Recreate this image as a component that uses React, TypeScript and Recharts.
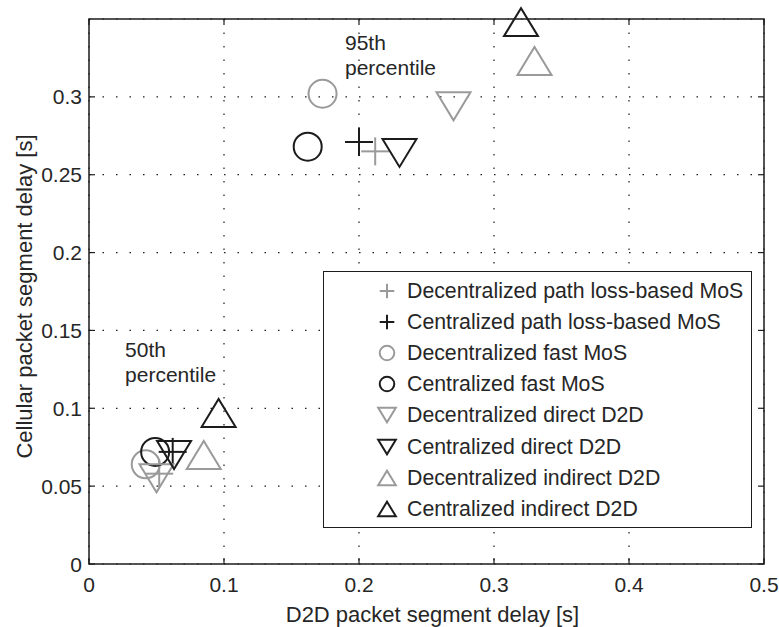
import {
    CartesianGrid,
    ReferenceArea,
    ReferenceDot,
    Scatter,
    ScatterChart,
    XAxis,
    YAxis,
} from "recharts";

// tick values
const xTicks = [0, 0.1, 0.2, 0.3, 0.4, 0.5];
const yTicks = [0, 0.05, 0.1, 0.15, 0.2, 0.25, 0.3];

// each series: [50th percentile, 95th percentile]
const decPathX = [0.052, 0.212];
const decPathY = [0.058, 0.265];
const cenPathX = [0.062, 0.2];
const cenPathY = [0.072, 0.271];
const decFastX = [0.042, 0.173];
const decFastY = [0.064, 0.302];
const cenFastX = [0.049, 0.162];
const cenFastY = [0.072, 0.268];
const decDirectX = [0.05, 0.27];
const decDirectY = [0.055, 0.294];
const cenDirectX = [0.063, 0.23];
const cenDirectY = [0.07, 0.264];
const decIndirectX = [0.085, 0.33];
const decIndirectY = [0.07, 0.323];
const cenIndirectX = [0.096, 0.32];
const cenIndirectY = [0.097, 0.348];

const W = 779;
const H = 627;
const margin = { top: 19, right: 15, left: 0, bottom: 0 };
const Y_W = 89;
const X_H = 63;
const PLOT_L = Y_W;
const PLOT_R = W - margin.right;
const PLOT_T = margin.top;
const PLOT_B = H - X_H;
const TICK = 6;

const BLACK = "#1c1c1c";
const GREY = "#9a9a9a";
const TEXT = "#262626";
const FONT = "'Liberation Sans', Arial, Helvetica, sans-serif";

type Kind = "plus" | "circle" | "down" | "up";

const series: { name: string; xs: number[]; ys: number[]; kind: Kind; color: string }[] = [
    { name: "Decentralized path loss-based MoS", xs: decPathX, ys: decPathY, kind: "plus", color: GREY },
    { name: "Centralized path loss-based MoS", xs: cenPathX, ys: cenPathY, kind: "plus", color: BLACK },
    { name: "Decentralized fast MoS", xs: decFastX, ys: decFastY, kind: "circle", color: GREY },
    { name: "Centralized fast MoS", xs: cenFastX, ys: cenFastY, kind: "circle", color: BLACK },
    { name: "Decentralized direct D2D", xs: decDirectX, ys: decDirectY, kind: "down", color: GREY },
    { name: "Centralized direct D2D", xs: cenDirectX, ys: cenDirectY, kind: "down", color: BLACK },
    { name: "Decentralized indirect D2D", xs: decIndirectX, ys: decIndirectY, kind: "up", color: GREY },
    { name: "Centralized indirect D2D", xs: cenIndirectX, ys: cenIndirectY, kind: "up", color: BLACK },
];

function Mark({ kind, color, cx, cy, s }: { kind: Kind; color: string; cx: number; cy: number; s: number }) {
    const sw = 2;
    if (kind === "plus") {
        const a = 14 * s;
        return (
            <g stroke={color} strokeWidth={sw}>
                <line x1={cx - a} x2={cx + a} y1={cy} y2={cy} />
                <line x1={cx} x2={cx} y1={cy - a} y2={cy + a} />
            </g>
        );
    }
    if (kind === "circle") {
        return <circle cx={cx} cy={cy} r={14 * s} fill="none" stroke={color} strokeWidth={sw} />;
    }
    const hw = 17 * s;
    const hh = 14 * s;
    const pts =
        kind === "down"
            ? `${cx - hw},${cy - hh} ${cx + hw},${cy - hh} ${cx},${cy + hh}`
            : `${cx - hw},${cy + hh} ${cx + hw},${cy + hh} ${cx},${cy - hh}`;
    return <polygon points={pts} fill="none" stroke={color} strokeWidth={sw} strokeLinejoin="miter" />;
}

const XTick = (p: any) => {
    const x = p.x;
    return (
        <g>
            <line x1={x} x2={x} y1={PLOT_B} y2={PLOT_B - TICK} stroke={BLACK} strokeWidth={1.2} />
            <line x1={x} x2={x} y1={PLOT_T} y2={PLOT_T + TICK} stroke={BLACK} strokeWidth={1.2} />
            <text x={x} y={PLOT_B + 28} textAnchor="middle" fontSize={21} fill={TEXT} fontFamily={FONT}>
                {p.payload.value}
            </text>
        </g>
    );
};

const YTick = (p: any) => {
    const y = p.y;
    return (
        <g>
            <line x1={PLOT_L} x2={PLOT_L + TICK} y1={y} y2={y} stroke={BLACK} strokeWidth={1.2} />
            <line x1={PLOT_R} x2={PLOT_R - TICK} y1={y} y2={y} stroke={BLACK} strokeWidth={1.2} />
            <text x={PLOT_L - 7} y={y} textAnchor="end" dominantBaseline="central" fontSize={21} fill={TEXT} fontFamily={FONT}>
                {p.payload.value}
            </text>
        </g>
    );
};

const note = (lines: string[]) => (props: any) => {
    const vb = props.viewBox || {};
    return (
        <text x={vb.x} y={vb.y} fontSize={21} fill={TEXT} fontFamily={FONT} dominantBaseline="central">
            {lines.map((l, i) => (
                <tspan key={i} x={vb.x} dy={i === 0 ? 0 : 25}>
                    {l}
                </tspan>
            ))}
        </text>
    );
};

function Legend() {
    return (
        <div
            style={{
                position: "absolute",
                left: 323,
                top: 271,
                width: 429,
                height: 257,
                boxSizing: "border-box",
                border: `1.5px solid ${BLACK}`,
                background: "#fff",
                fontFamily: FONT,
                fontSize: 21.3,
                color: TEXT,
            }}
        >
            {series.map((s, i) => (
                <div
                    key={s.name}
                    style={{ position: "absolute", left: 0, top: 19 + i * 31.1 - 15, height: 30, display: "flex", alignItems: "center" }}
                >
                    <svg width={30} height={30} style={{ position: "absolute", left: 48 }}>
                        <Mark kind={s.kind} color={s.color} cx={15} cy={15} s={0.52} />
                    </svg>
                    <span style={{ position: "absolute", left: 83, whiteSpace: "nowrap", lineHeight: "30px" }}>{s.name}</span>
                </div>
            ))}
        </div>
    );
}

const Y_MID = (PLOT_T + PLOT_B) / 2 + 5;

export default function App() {
    return (
        <div style={{ position: "absolute", left: 0, top: 0, width: W, height: H, background: "#fff" }}>
            <ScatterChart width={W} height={H} margin={margin}>
                <CartesianGrid stroke={BLACK} strokeDasharray="1.5 12" strokeWidth={1.2} />
                <XAxis
                    type="number"
                    dataKey="x"
                    domain={[0, 0.5]}
                    ticks={xTicks}
                    interval={0}
                    height={X_H}
                    axisLine={false}
                    tickLine={false}
                    tick={XTick}
                    label={{
                        content: () => (
                            <text x={(PLOT_L + PLOT_R) / 2 + 6} y={PLOT_B + 58} textAnchor="middle" fontSize={22} fill={TEXT} fontFamily={FONT}>
                                D2D packet segment delay [s]
                            </text>
                        ),
                    }}
                />
                <YAxis
                    type="number"
                    dataKey="y"
                    domain={[0, 0.35]}
                    ticks={yTicks}
                    interval={0}
                    width={Y_W}
                    axisLine={false}
                    tickLine={false}
                    tick={YTick}
                    label={{
                        content: () => (
                            <text
                                x={32}
                                y={Y_MID}
                                transform={`rotate(-90 32 ${Y_MID})`}
                                textAnchor="middle"
                                fontSize={22}
                                fill={TEXT}
                                fontFamily={FONT}
                            >
                                Cellular packet segment delay [s]
                            </text>
                        ),
                    }}
                />
                <ReferenceArea x1={0} x2={0.5} y1={0} y2={0.35} fill="none" stroke={BLACK} strokeWidth={1.5} ifOverflow="visible" />
                <ReferenceDot x={0.1896} y={0.335} r={0} fill="none" stroke="none" label={note(["95th", "percentile"])} />
                <ReferenceDot x={0.0267} y={0.138} r={0} fill="none" stroke="none" label={note(["50th", "percentile"])} />
                {series.map((s) => (
                    <Scatter
                        key={s.name}
                        name={s.name}
                        data={s.xs.map((x, i) => ({ x, y: s.ys[i] }))}
                        isAnimationActive={false}
                        shape={(p: any) => <Mark kind={s.kind} color={s.color} cx={p.cx} cy={p.cy} s={1} />}
                    />
                ))}
            </ScatterChart>
            <Legend />
        </div>
    );
}
